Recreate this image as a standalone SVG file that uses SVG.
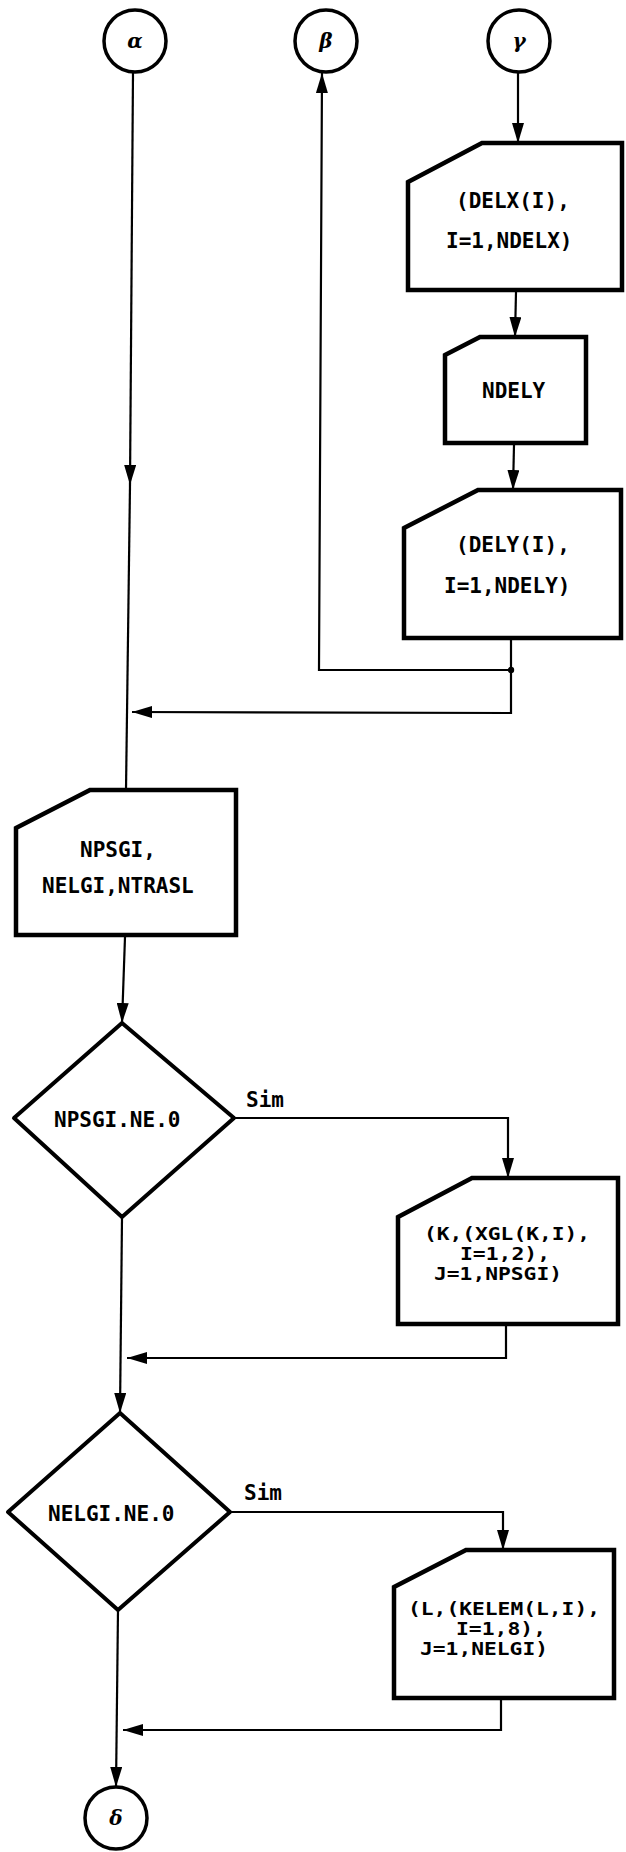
<svg xmlns="http://www.w3.org/2000/svg" width="626" height="1852" viewBox="0 0 626 1852">
<style>
.box{fill:#fff;stroke:#000;stroke-width:4.5;stroke-linejoin:miter}
.dia{fill:#fff;stroke:#000;stroke-width:4;stroke-linejoin:round}
.wire{fill:none;stroke:#000;stroke-width:2.2;marker-end:url(#arr)}
.plain{fill:none;stroke:#000;stroke-width:2.2}
.t{font-family:"DejaVu Sans Mono","Liberation Mono",monospace;font-weight:bold;font-size:21px;fill:#000}
.s{font-family:"DejaVu Sans Mono","Liberation Mono",monospace;font-weight:bold;font-size:18px;fill:#000}
.g{font-family:"DejaVu Serif","Liberation Serif",serif;font-style:italic;font-weight:bold;font-size:20px;fill:#000;text-anchor:middle}
.circ{fill:#fff;stroke:#000;stroke-width:3.5}
</style>
<defs>
<marker id="arr" viewBox="0 0 20 12" refX="20" refY="6" markerWidth="20" markerHeight="12" markerUnits="userSpaceOnUse" orient="auto">
<path d="M0,0 L20,6 L0,12 Z" fill="#000"/>
</marker>
</defs>
<g id="connectors">
<path class="wire" d="M133,72 L130,485"/>
<path class="plain" d="M130,485 L126,790"/>
<path class="wire" d="M511,670 L319,670 L322,73"/>
<path class="wire" d="M518,72 L518,143"/>
<path class="wire" d="M516,292 L515,337"/>
<path class="wire" d="M514,445 L513,490"/>
<path class="wire" d="M511,640 L511,713 L132,712"/>
<circle cx="511" cy="670" r="3.2" fill="#000"/>
<path class="wire" d="M125,937 L122,1023"/>
<path class="wire" d="M234,1118 L508,1118 L508,1178"/>
<path class="wire" d="M506,1326 L506,1358 L127,1358"/>
<path class="wire" d="M122,1217 L120,1413"/>
<path class="wire" d="M230,1512 L503,1512 L503,1550"/>
<path class="wire" d="M501,1700 L501,1730 L123,1730"/>
<path class="wire" d="M118,1610 L116,1787"/>
</g>
<g id="alpha"><circle class="circ" cx="135" cy="41" r="31"/><text class="g" x="135" y="48">α</text></g>
<g id="beta"><circle class="circ" cx="326" cy="41" r="31"/><text class="g" x="326" y="48">β</text></g>
<g id="gamma"><circle class="circ" cx="519" cy="41" r="31"/><text class="g" x="519" y="48">γ</text></g>
<g id="delx">
<path class="box" d="M408,182 L482,143 L622,143 L622,290 L408,290 Z"/>
<text class="t" x="456" y="208">(DELX(I),</text>
<text class="t" x="446" y="248">I=1,NDELX)</text>
</g>
<g id="ndely">
<path class="box" d="M445,355 L480,337 L586,337 L586,443 L445,443 Z"/>
<text class="t" x="482" y="398">NDELY</text>
</g>
<g id="dely">
<path class="box" d="M404,528 L478,490 L621,490 L621,638 L404,638 Z"/>
<text class="t" x="456" y="552">(DELY(I),</text>
<text class="t" x="444" y="593">I=1,NDELY)</text>
</g>
<g id="npsgi-read">
<path class="box" d="M16,828 L90,790 L236,790 L236,935 L16,935 Z"/>
<text class="t" x="80" y="857">NPSGI,</text>
<text class="t" x="42" y="893">NELGI,NTRASL</text>
</g>
<g id="dec1">
<path class="dia" d="M122,1023 L234,1118 L122,1217 L14,1118 Z"/>
<text class="t" x="54" y="1127">NPSGI.NE.0</text>
<text class="t" x="246" y="1107">Sim</text>
</g>
<g id="xgl">
<path class="box" d="M398,1217 L472,1178 L618,1178 L618,1324 L398,1324 Z"/>
<text class="s" x="424" y="1240" textLength="166" lengthAdjust="spacingAndGlyphs">(K,(XGL(K,I),</text>
<text class="s" x="460" y="1260" textLength="90" lengthAdjust="spacingAndGlyphs">I=1,2),</text>
<text class="s" x="434" y="1280" textLength="128" lengthAdjust="spacingAndGlyphs">J=1,NPSGI)</text>
</g>
<g id="dec2">
<path class="dia" d="M120,1413 L230,1512 L118,1610 L8,1512 Z"/>
<text class="t" x="48" y="1521">NELGI.NE.0</text>
<text class="t" x="244" y="1500">Sim</text>
</g>
<g id="kelem">
<path class="box" d="M394,1587 L466,1550 L614,1550 L614,1698 L394,1698 Z"/>
<text class="s" x="408" y="1615" textLength="192" lengthAdjust="spacingAndGlyphs">(L,(KELEM(L,I),</text>
<text class="s" x="456" y="1635" textLength="90" lengthAdjust="spacingAndGlyphs">I=1,8),</text>
<text class="s" x="420" y="1655" textLength="128" lengthAdjust="spacingAndGlyphs">J=1,NELGI)</text>
</g>
<g id="delta"><circle class="circ" cx="116" cy="1818" r="31"/><text class="g" x="116" y="1825">δ</text></g>
</svg>
